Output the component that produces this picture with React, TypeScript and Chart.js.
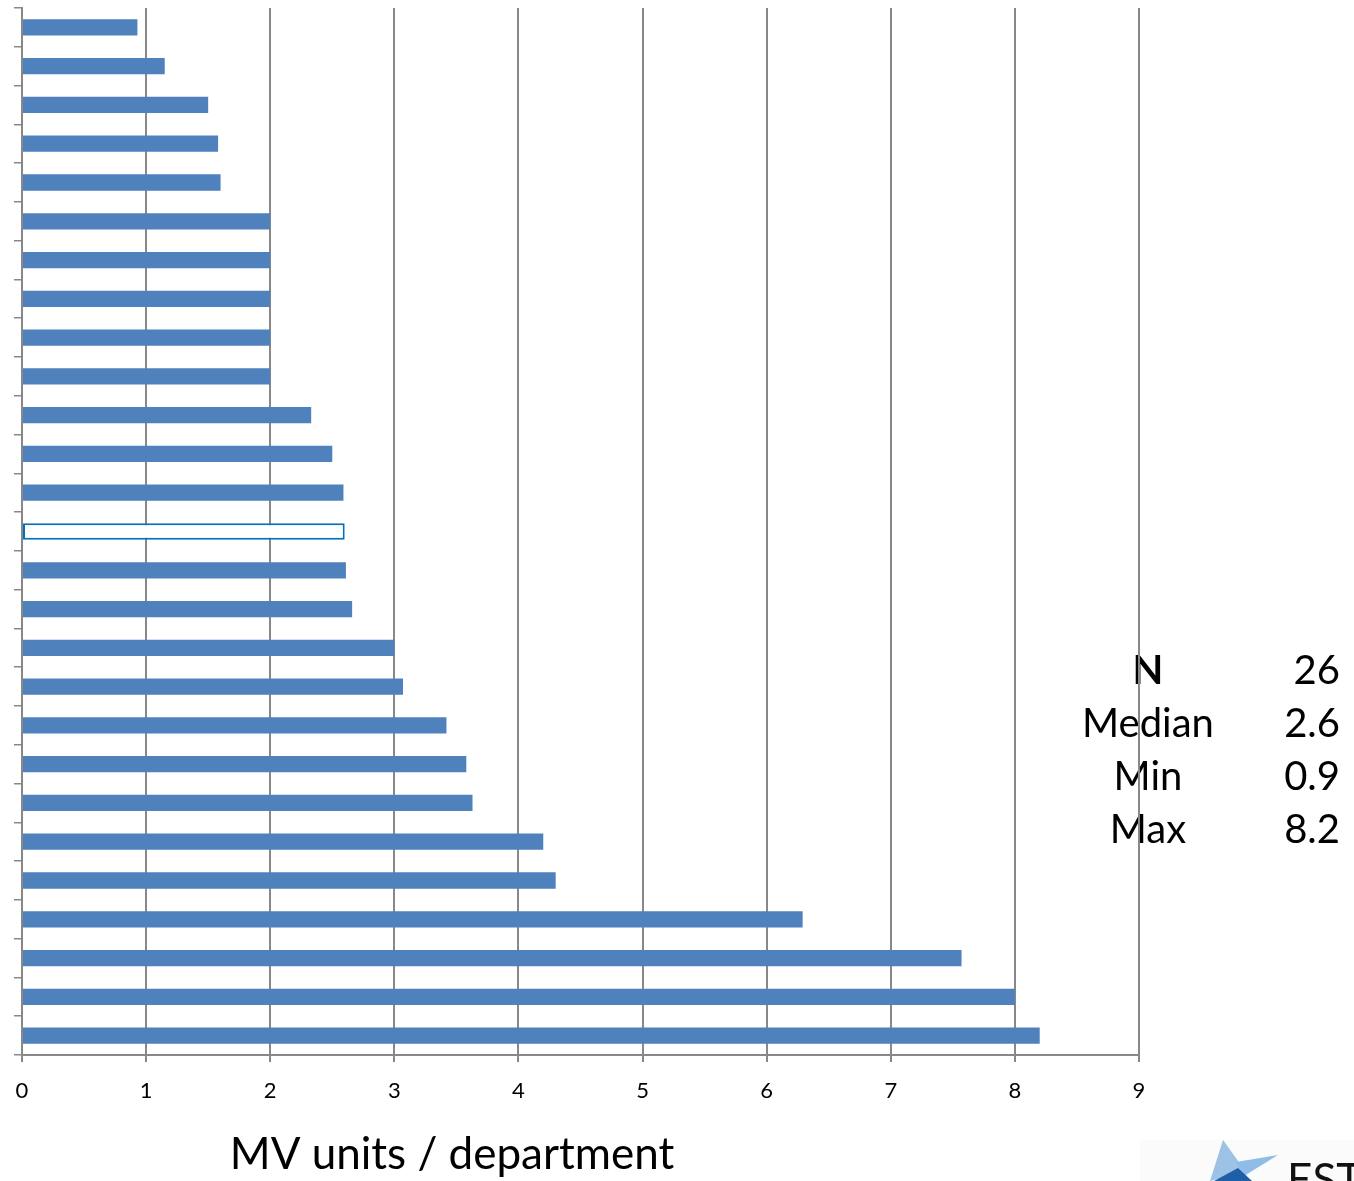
import React, { useEffect, useRef } from "react";
import { Chart, registerables } from "chart.js";

Chart.register(...registerables);

// MV units per department, sorted ascending (top to bottom)
const departments = [
  "D01", "D02", "D03", "D04", "D05", "D06", "D07", "D08", "D09",
  "D10", "D11", "D12", "D13", "D14", "D15", "D16", "D17", "D18",
  "D19", "D20", "D21", "D22", "D23", "D24", "D25", "D26", "D27",
];
const mvUnits = [
  0.93, 1.15, 1.5, 1.58, 1.6, 2.0, 2.0, 2.0, 2.0,
  2.0, 2.33, 2.5, 2.59, 2.6, 2.61, 2.66, 3.0, 3.07,
  3.42, 3.58, 3.63, 4.2, 4.3, 6.29, 7.57, 8.0, 8.2,
];
// the median reference bar is drawn as an outline
const medianIndex = 13;

const xTicks = [0, 1, 2, 3, 4, 5, 6, 7, 8, 9];

const statLabels = ["N", "Median", "Min", "Max"];
const statValues = ["26", "2.6", "0.9", "8.2"];

const axisTitle = "MV units / department";

const BAR_BLUE = "#4f81bd";
const OUTLINE_BLUE = "#0070c0";
const GRID_GREY = "#888888";
const FONT = "Lato, 'Open Sans', sans-serif";

Chart.defaults.font.family = FONT;
Chart.defaults.color = "#000";

const annotations = {
  id: "annotations",
  beforeDraw(chart: any) {
    const ctx = chart.ctx;
    ctx.save();
    ctx.fillStyle = "#000";
    ctx.textBaseline = "middle";
    statLabels.forEach((label, i) => {
      const y = 671 + i * 53;
      ctx.font = `${i === 0 ? "bold " : ""}40px ${FONT}`;
      ctx.textAlign = "center";
      ctx.fillText(label, 1148, y);
      ctx.font = `40px ${FONT}`;
      ctx.textAlign = "right";
      ctx.fillText(statValues[i], 1340, y);
    });
    ctx.restore();
  },
  afterDraw(chart: any) {
    const ctx = chart.ctx;
    const xScale = chart.scales.x;
    ctx.save();
    ctx.fillStyle = "#000";

    // value axis labels under each tick
    ctx.font = `22px ${FONT}`;
    ctx.textAlign = "center";
    ctx.textBaseline = "middle";
    xTicks.forEach((v) => {
      ctx.fillText(String(v), xScale.getPixelForValue(v), 1091);
    });

    ctx.font = `44px ${FONT}`;
    ctx.fillText(axisTitle, 452, 1155);

    // logo in the lower right corner
    ctx.fillStyle = "#fbfbfb";
    ctx.fillRect(1140, 1140, 214, 41);
    ctx.fillStyle = "#9cc3e6";
    ctx.beginPath();
    ctx.moveTo(1223, 1140);
    ctx.lineTo(1246, 1172);
    ctx.lineTo(1210, 1181);
    ctx.closePath();
    ctx.fill();
    ctx.fillStyle = "#8fbde8";
    ctx.beginPath();
    ctx.moveTo(1278, 1155);
    ctx.lineTo(1244, 1176);
    ctx.lineTo(1236, 1162);
    ctx.closePath();
    ctx.fill();
    ctx.fillStyle = "#1f5fa8";
    ctx.beginPath();
    ctx.moveTo(1214, 1181);
    ctx.lineTo(1238, 1168);
    ctx.lineTo(1252, 1181);
    ctx.closePath();
    ctx.fill();
    ctx.fillStyle = "#111";
    ctx.font = `44px ${FONT}`;
    ctx.textAlign = "left";
    ctx.textBaseline = "alphabetic";
    ctx.fillText("EST", 1287, 1195);
    ctx.restore();
  },
};

export default function App() {
  const canvasRef = useRef<HTMLCanvasElement | null>(null);

  useEffect(() => {
    if (!canvasRef.current) return;
    const chart = new Chart(canvasRef.current, {
      type: "bar",
      data: {
        labels: departments,
        datasets: [
          {
            data: mvUnits,
            backgroundColor: mvUnits.map((_, i) => (i === medianIndex ? "#ffffff" : BAR_BLUE)),
            borderColor: mvUnits.map((_, i) => (i === medianIndex ? OUTLINE_BLUE : BAR_BLUE)),
            borderWidth: mvUnits.map((_, i) => (i === medianIndex ? 2 : 0)),
            borderSkipped: false,
            categoryPercentage: 1,
            barPercentage: 0.42,
          },
        ],
      },
      options: {
        indexAxis: "y",
        responsive: false,
        animation: false,
        layout: { padding: { left: 14, top: 8, right: 215, bottom: 119 } },
        plugins: {
          legend: { display: false },
          tooltip: { enabled: false },
        },
        scales: {
          x: {
            type: "linear",
            min: 0,
            max: 9,
            afterBuildTicks: (scale: any) => {
              scale.ticks = xTicks.map((v) => ({ value: v }));
            },
            grid: {
              color: GRID_GREY,
              lineWidth: 2,
              drawTicks: true,
              tickLength: 7,
            },
            border: { display: true, color: GRID_GREY, width: 2 },
            ticks: { display: false },
          },
          y: {
            type: "category",
            offset: true,
            grid: {
              offset: true,
              drawOnChartArea: false,
              drawTicks: true,
              tickLength: 8,
              color: GRID_GREY,
              lineWidth: 1.5,
            },
            border: { display: true, color: GRID_GREY, width: 2 },
            ticks: { display: false },
          },
        },
      },
      plugins: [annotations],
    });
    return () => chart.destroy();
  }, []);

  return (
    <div style={{ position: "absolute", left: 0, top: 0, width: 1354, height: 1181, background: "#fff" }}>
      <canvas ref={canvasRef} width={1354} height={1181} style={{ display: "block" }} />
    </div>
  );
}
